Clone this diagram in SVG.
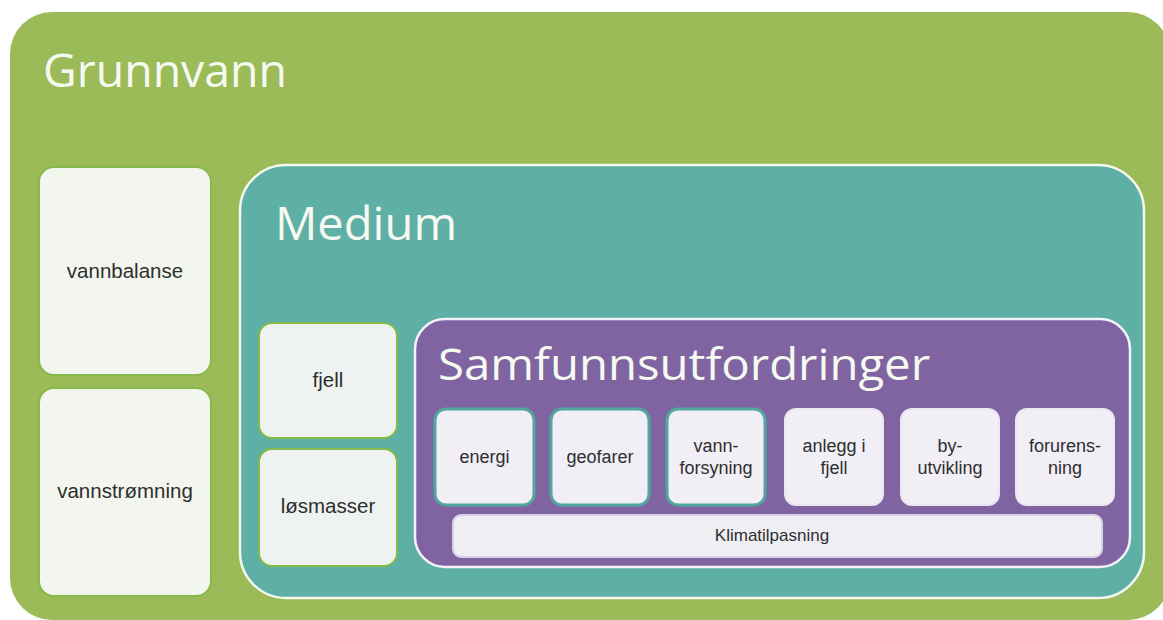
<svg xmlns="http://www.w3.org/2000/svg" width="1163" height="620" viewBox="0 0 1163 620">
  <style>
    .title { font-family: "Open Sans", "Liberation Sans", sans-serif; fill: #f6f9f0; }
    .lbl { font-family: "Liberation Sans", Arial, sans-serif; fill: #2e2e2e; text-anchor: middle; }
    .lbl20 { font-size: 20.5px; }
    .lbl18 { font-size: 18px; }
    .leftbox { fill: #f2f6ee; stroke: #86b84a; stroke-width: 2; }
    .medbox { fill: #eef3f2; stroke: #86b84a; stroke-width: 2; }
    .smallA { fill: #f1eff5; stroke: #4fa79d; stroke-width: 3; }
    .smallB { fill: #f1eff5; stroke: #ebe7f1; stroke-width: 2; }
  </style>
  <rect width="1163" height="620" fill="#ffffff"/>
  <g id="grunnvann">
    <rect x="10" y="12" width="1160" height="608" rx="42" fill="#9bbb59"/>
    <text class="title" x="43" y="87" font-size="45" textLength="244" lengthAdjust="spacingAndGlyphs">Grunnvann</text>
  </g>
  <g id="vannbalanse">
    <rect class="leftbox" x="39" y="167" width="172" height="208" rx="15"/>
    <text class="lbl lbl20" x="125" y="278">vannbalanse</text>
  </g>
  <g id="vannstromning">
    <rect class="leftbox" x="39" y="388" width="172" height="208" rx="15"/>
    <text class="lbl lbl20" x="125" y="498">vannstrømning</text>
  </g>
  <g id="medium">
    <rect x="240" y="165" width="904" height="433" rx="46" fill="#5eafa5" stroke="#f4f8f0" stroke-width="2.5"/>
    <text class="title" x="275" y="240" font-size="45" textLength="182" lengthAdjust="spacingAndGlyphs">Medium</text>
  </g>
  <g id="fjell">
    <rect class="medbox" x="259" y="323" width="138" height="115" rx="13"/>
    <text class="lbl lbl20" x="328" y="387">fjell</text>
  </g>
  <g id="losmasser">
    <rect class="medbox" x="259" y="449" width="138" height="117" rx="13"/>
    <text class="lbl lbl20" x="328" y="513">løsmasser</text>
  </g>
  <g id="samfunnsutfordringer">
    <rect x="415" y="319" width="715" height="248" rx="30" fill="#8064a2" stroke="#f4f2f8" stroke-width="2.5"/>
    <text class="title" x="438" y="380" font-size="43" textLength="492" lengthAdjust="spacingAndGlyphs">Samfunnsutfordringer</text>
  </g>
  <g id="energi">
    <rect class="smallA" x="435" y="409" width="99" height="96" rx="11"/>
    <text class="lbl lbl18" x="484.5" y="463">energi</text>
  </g>
  <g id="geofarer">
    <rect class="smallA" x="551" y="409" width="98" height="96" rx="11"/>
    <text class="lbl lbl18" x="600" y="463">geofarer</text>
  </g>
  <g id="vannforsyning">
    <rect class="smallA" x="667" y="409" width="98" height="96" rx="11"/>
    <text class="lbl lbl18" x="716" y="452">vann-</text>
    <text class="lbl lbl18" x="716" y="474">forsyning</text>
  </g>
  <g id="anlegg">
    <rect class="smallB" x="785" y="409" width="98" height="96" rx="11"/>
    <text class="lbl lbl18" x="834" y="452">anlegg i</text>
    <text class="lbl lbl18" x="834" y="474">fjell</text>
  </g>
  <g id="byutvikling">
    <rect class="smallB" x="901" y="409" width="98" height="96" rx="11"/>
    <text class="lbl lbl18" x="950" y="452">by-</text>
    <text class="lbl lbl18" x="950" y="474">utvikling</text>
  </g>
  <g id="forurensning">
    <rect class="smallB" x="1016" y="409" width="98" height="96" rx="11"/>
    <text class="lbl lbl18" x="1065" y="452">forurens-</text>
    <text class="lbl lbl18" x="1065" y="474">ning</text>
  </g>
  <g id="klimatilpasning">
    <rect x="453" y="515" width="649" height="42" rx="8" fill="#efeef3" stroke="#d9d1e6" stroke-width="2"/>
    <text class="lbl" x="772" y="541" font-size="17">Klimatilpasning</text>
  </g>
  <g id="connectors"/>
</svg>
